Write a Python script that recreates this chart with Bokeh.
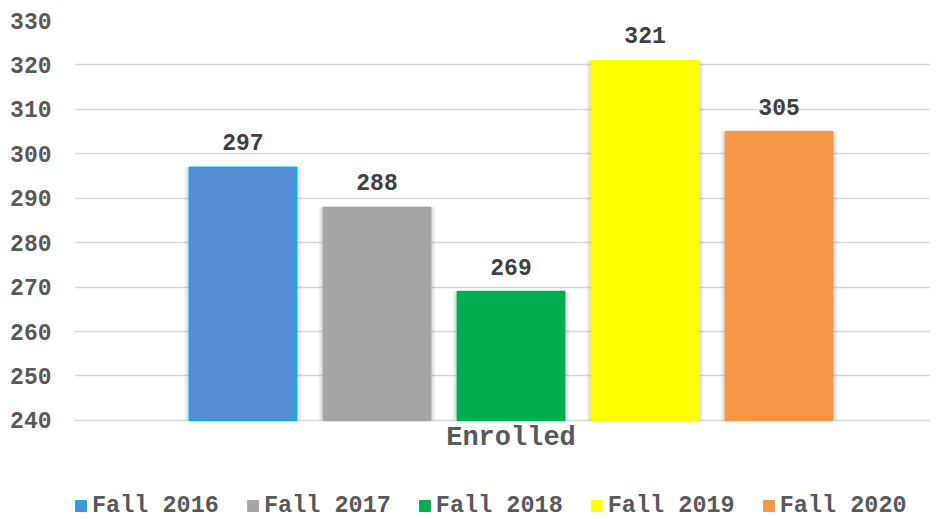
from bokeh.plotting import figure
from bokeh.models import ColumnDataSource, FixedTicker, Legend, LegendItem, LabelSet, Label, Range1d
from bokeh.core.properties import value
from bokeh.embed import file_html
from bokeh.resources import INLINE

# ---- data ----
categories = ["Fall 2016", "Fall 2017", "Fall 2018", "Fall 2019", "Fall 2020"]
values = [297, 288, 269, 321, 305]
colors = ["#558ED5", "#A5A5A5", "#00B050", "#FFFF00", "#F79646"]
outline_colors = ["#00B0F0", "#A5A5A5", "#00B050", "#FFFF00", "#F79646"]
y_ticks = [240, 250, 260, 270, 280, 290, 300, 310, 320, 330]
group_label = "Enrolled"

FONT = "Liberation Mono"
positions = list(range(len(categories)))
base = y_ticks[0]

src = ColumnDataSource(dict(x=positions, top=values, color=colors, line=outline_colors,
                            label=categories, text=[str(v) for v in values]))

# frame extends below the value axis to hold the category label and legend
p = figure(frame_width=856, frame_height=499, output_backend="svg", toolbar_location=None,
           x_range=Range1d(-1.257, 5.13), y_range=Range1d(217.7, 330),
           x_axis_location=None,
           min_border_left=74, min_border_right=0, min_border_top=20, min_border_bottom=0)
p.outline_line_color = None

# soft shadows
for i, a in enumerate([0.05, 0.05, 0.05]):
    d = (i + 1) * 0.012
    p.vbar(x="x", top="top", bottom=base, width=0.8 + 2 * d, source=src,
           fill_color="black", fill_alpha=a, line_color=None)

renderers = []
for i in positions:
    r = p.vbar(x=[positions[i]], top=[values[i]], bottom=base, width=0.8,
               fill_color=colors[i], line_color=outline_colors[i], line_width=1.5)
    renderers.append(r)

labels = LabelSet(x="x", y="top", text="text", source=src, y_offset=17,
                  text_align="center", text_baseline="bottom",
                  text_font=value(FONT), text_font_style="bold", text_font_size="23px",
                  text_color="#404040")
p.add_layout(labels)

# category (group) label under the value axis baseline
p.add_layout(Label(x=(positions[0] + positions[-1]) / 2, y=base, y_offset=-18,
                   text=group_label, text_align="center", text_baseline="middle",
                   text_font=FONT, text_font_style="bold", text_font_size="27px",
                   text_color="#595959"))

# axes
p.yaxis.ticker = FixedTicker(ticks=y_ticks)
p.yaxis.axis_line_color = None
p.yaxis.major_tick_line_color = None
p.yaxis.minor_tick_line_color = None
p.yaxis.major_label_text_font = FONT
p.yaxis.major_label_text_font_style = "bold"
p.yaxis.major_label_text_font_size = "23px"
p.yaxis.major_label_text_color = "#595959"
p.yaxis.major_label_standoff = 17

p.xgrid.grid_line_color = None
p.ygrid.grid_line_color = "#D9D9D9"
p.ygrid.grid_line_width = 1.5

legend = Legend(items=[LegendItem(label=categories[i], renderers=[renderers[i]]) for i in positions],
                orientation="horizontal", location=(0, 0),
                glyph_width=13, glyph_height=13, label_standoff=5, spacing=27,
                padding=0, margin=0, border_line_color=None, background_fill_alpha=0,
                label_text_font=FONT, label_text_font_style="bold", label_text_font_size="23.5px",
                label_text_color="#595959")
p.add_layout(legend, "center")

open("out.html", "w").write(file_html(p, INLINE))
